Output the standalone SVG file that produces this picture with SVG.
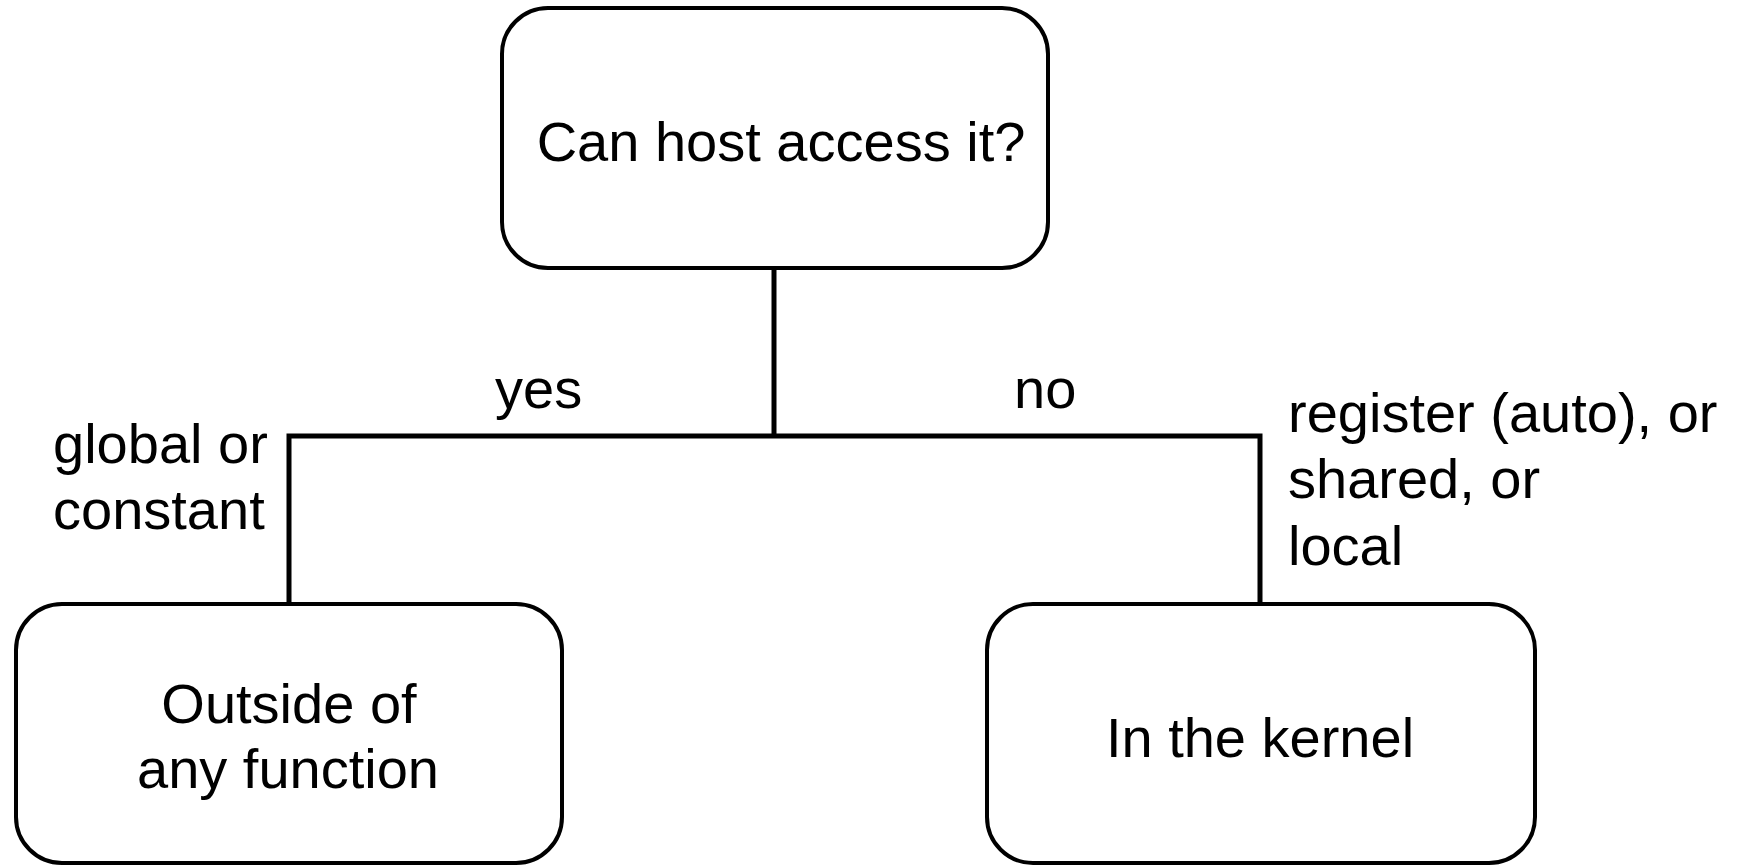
<svg xmlns="http://www.w3.org/2000/svg" width="1744" height="866" viewBox="0 0 1744 866">
  <style>
    .box { fill: #ffffff; stroke: #000000; stroke-width: 4; }
    .wire { fill: none; stroke: #000000; stroke-width: 5; stroke-linejoin: miter; }
    text { font-family: "Liberation Sans", Arial, sans-serif; font-size: 56px; fill: #000000; }
    .mid { text-anchor: middle; }
  </style>
  <rect width="1744" height="866" fill="#ffffff"/>

  <!-- branch lines -->
  <g id="connectors">
    <line class="wire" x1="774" y1="268" x2="774" y2="436"/>
    <polyline class="wire" points="289,604 289,436 1260,436 1260,604"/>
  </g>

  <g id="question">
    <rect class="box" x="502" y="8" width="546" height="260" rx="46" ry="46"/>
    <text class="mid" x="781" y="161">Can host access it?</text>
  </g>

  <g id="outside">
    <rect class="box" x="16" y="604" width="546" height="259" rx="46" ry="46"/>
    <text class="mid" x="289" y="723">Outside of</text>
    <text class="mid" x="288" y="788">any function</text>
  </g>

  <g id="kernel">
    <rect class="box" x="987" y="604" width="548" height="259" rx="46" ry="46"/>
    <text class="mid" x="1260" y="757">In the kernel</text>
  </g>

  <g id="labels">
    <text x="495" y="408">yes</text>
    <text x="1014" y="408">no</text>
    <text x="53" y="463">global or</text>
    <text x="53" y="529">constant</text>
    <text x="1288" y="432">register (auto), or</text>
    <text x="1288" y="498">shared, or</text>
    <text x="1288" y="565">local</text>
  </g>
</svg>
